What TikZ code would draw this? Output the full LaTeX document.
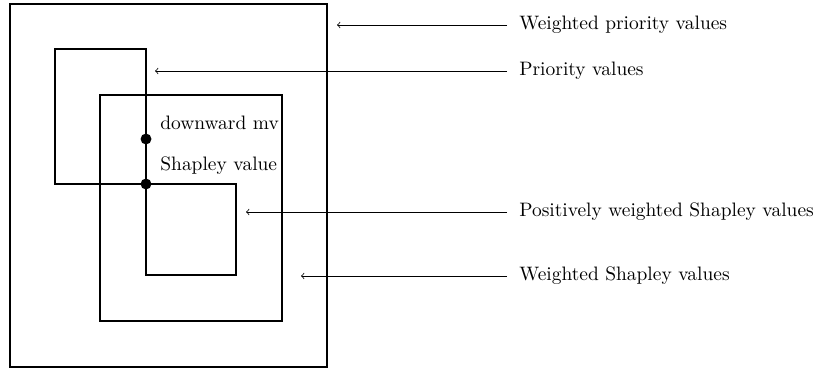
\documentclass[tikz,border=0pt]{standalone}
\begin{document}
\begin{tikzpicture}[x=0.55pt,y=-0.55pt,
  every node/.style={font=\fontsize{10.7}{13}\selectfont},
  region/.style={draw,line width=1.1pt},
  dotmark/.style={circle,fill=black,inner sep=0pt,minimum size=6pt},
  lab/.style={anchor=west,inner xsep=6.6pt,inner ysep=0pt},
  inlab/.style={anchor=west,inner sep=0pt},
  pointer/.style={->,line width=0.4pt}]
\useasboundingbox (0,0) rectangle (817,370);
% regions
\draw[region] (10,4) rectangle (327,367);
\draw[region] (55,49) rectangle (146,184);
\draw[region] (100,95) rectangle (282,321);
\draw[region] (146,184) rectangle (236,275);
% dots
\node[dotmark] (d1) at (146,139) {};
\node[dotmark] (d2) at (146,184) {};
\node[inlab] (t1) at (160,123) {downward mv};
\node[inlab] (t2) at (160,166) {Shapley value};
% labels and arrows
\node[lab] (l1) at (507,25) {Weighted priority values};
\node[lab] (l2) at (507,71) {Priority values};
\node[lab] (l3) at (507,212) {Positively weighted Shapley values};
\node[lab] (l4) at (507,276) {Weighted Shapley values};
\coordinate (e1) at (337,25);
\coordinate (e2) at (155,71);
\coordinate (e3) at (246,212);
\coordinate (e4) at (301,276);
\draw[pointer] (l1.west) -- (e1);
\draw[pointer] (l2.west) -- (e2);
\draw[pointer] (l3.west) -- (e3);
\draw[pointer] (l4.west) -- (e4);
\end{tikzpicture}
\end{document}
